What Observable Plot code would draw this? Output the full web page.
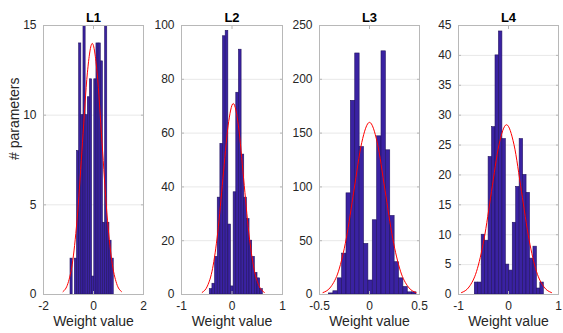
<!DOCTYPE html>
<html><head><meta charset="utf-8">
<script src="https://cdn.jsdelivr.net/npm/d3@7"></script>
<script src="https://cdn.jsdelivr.net/npm/@observablehq/plot@0.6"></script>
<style>
body{margin:0;background:#fff;}
#chart{position:relative;width:563px;height:333px;overflow:hidden;background:#fff;}
#chart svg{position:absolute;top:0;overflow:visible;}
</style></head><body><div id="chart"></div>
<script>
// ---- data ----
const titles = ["L1", "L2", "L3", "L4"];
const xLabel = "Weight value";
const yLabel = "# parameters";

// histogram: value range covered by the bars and counts per bin (20 bins each)
const l1Range = [-0.92, 0.81];
const l1Counts = [2, 0, 2, 8, 14, 10, 16, 10, 11, 12, 1, 12, 14, 14, 13, 4, 16, 4, 3, 2];
const l2Range = [-0.44, 0.61];
const l2Counts = [2, 4, 14, 36, 56, 96, 98, 26, 3, 38, 75, 91, 52, 36, 28, 20, 14, 8, 6, 2];
const l3Range = [-0.405, 0.47];
const l3Counts = [1, 3, 15, 38, 94, 180, 224, 137, 47, 13, 69, 147, 226, 134, 73, 30, 15, 7, 2, 2];
const l4Range = [-0.674, 0.706];
const l4Counts = [2, 2, 10, 9, 23, 28, 40, 44, 26, 5, 4, 12, 18, 26, 20, 17, 6, 8, 1, 2];

// red fitted curve
const l1CurveX = [-1.22, -1.025, -0.83, -0.635, -0.44, -0.245, -0.05, 0.145, 0.34, 0.535, 0.73, 0.925, 1.12];
const l1CurveY = [0.16, 0.61, 1.89, 4.55, 8.49, 12.36, 14.0, 12.36, 8.49, 4.55, 1.89, 0.61, 0.16];
const l2CurveX = [-0.59, -0.4875, -0.385, -0.2825, -0.18, -0.0775, 0.025, 0.1275, 0.23, 0.3325, 0.435, 0.5375, 0.64];
const l2CurveY = [0.79, 3.12, 9.61, 23.05, 43.06, 62.66, 71.0, 62.66, 43.06, 23.05, 9.61, 3.12, 0.79];
const l3CurveX = [-0.465, -0.3875, -0.31, -0.2325, -0.155, -0.0775, 0, 0.0775, 0.155, 0.2325, 0.31, 0.3875, 0.465];
const l3CurveY = [1.78, 7.02, 21.65, 51.95, 97.04, 141.2, 160.0, 141.2, 97.04, 51.95, 21.65, 7.02, 1.78];
const l4CurveX = [-0.94, -0.79, -0.64, -0.49, -0.34, -0.19, -0.04, 0.11, 0.26, 0.41, 0.56, 0.71, 0.86];
const l4CurveY = [0.32, 1.25, 3.84, 9.22, 17.22, 25.06, 28.4, 25.06, 17.22, 9.22, 3.84, 1.25, 0.32];

// axis ticks
const l1XTicks = [-2, 0, 2];
const l2XTicks = [-1, 0, 1];
const l3XTicks = [-0.5, 0, 0.5];
const l4XTicks = [-1, 0, 1];
const l1YTicks = [0, 5, 10, 15];
const l2YTicks = [0, 20, 40, 60, 80, 100];
const l3YTicks = [0, 50, 100, 150, 200, 250];
const l4YTicks = [0, 5, 10, 15, 20, 25, 30, 35, 40, 45];

// ---- layout / style ----
const FONT = "'Liberation Sans', Arial, Helvetica, sans-serif";
const BAR_FILL = "#3a22a2";
const BAR_STROKE = "#22135f";
const BOX = "#b8b8b8";
const TXT = "#262626";

const panels = [
  {title: titles[0], range: l1Range, counts: l1Counts, cx: l1CurveX, cy: l1CurveY, xt: l1XTicks, yt: l1YTicks,
   left: 0, width: 150, ml: 43, mr: 7, ylab: true},
  {title: titles[1], range: l2Range, counts: l2Counts, cx: l2CurveX, cy: l2CurveY, xt: l2XTicks, yt: l2YTicks,
   left: 150, width: 138, ml: 31, mr: 6},
  {title: titles[2], range: l3Range, counts: l3Counts, cx: l3CurveX, cy: l3CurveY, xt: l3XTicks, yt: l3YTicks,
   left: 288, width: 138, ml: 31, mr: 7},
  {title: titles[3], range: l4Range, counts: l4Counts, cx: l4CurveX, cy: l4CurveY, xt: l4XTicks, yt: l4YTicks,
   left: 426, width: 137, ml: 32, mr: 5}
];

const chart = document.getElementById("chart");

for (const p of panels) {
  const n = p.counts.length;
  const bw = (p.range[1] - p.range[0]) / n;
  const bins = p.counts.map((c, i) => ({x1: p.range[0] + i * bw, x2: p.range[0] + (i + 1) * bw, count: c}));
  const curve = p.cx.map((x, i) => ({x, y: p.cy[i]}));
  const fmt = d => String(d);
  const marks = [
    Plot.gridY(p.yt, {stroke: "#e8e8e8", strokeOpacity: 1, strokeWidth: 1}),
    Plot.rect(bins, {x1: "x1", x2: "x2", y1: 0, y2: "count", fill: BAR_FILL, stroke: BAR_STROKE, strokeWidth: 0.6, clip: true}),
    Plot.line(curve, {x: "x", y: "y", stroke: "#ff0000", strokeWidth: 1, curve: "monotone-x", clip: true}),
    Plot.frame({stroke: BOX}),
    Plot.axisX(p.xt, {anchor: "bottom", tickSize: -3, tickPadding: 10, stroke: BOX, fill: TXT, fontSize: 12, tickFormat: fmt, label: null}),
    Plot.axisX(p.xt, {anchor: "top", tickSize: -3, tickPadding: 0, stroke: BOX, tickFormat: () => "", label: null}),
    Plot.axisY(p.yt, {anchor: "left", tickSize: -3, tickPadding: 10, stroke: BOX, fill: TXT, fontSize: 12, tickFormat: fmt, label: null}),
    Plot.axisY(p.yt, {anchor: "right", tickSize: -3, tickPadding: 0, stroke: BOX, tickFormat: () => "", label: null}),
    Plot.text([p.title], {frameAnchor: "top", dy: -13, fontWeight: "bold", fontSize: 13, fill: "#000"}),
    Plot.text([xLabel], {frameAnchor: "bottom", dy: 31, fontSize: 14, fill: TXT})
  ];
  if (p.ylab) marks.push(Plot.text([yLabel], {frameAnchor: "left", dx: -29, rotate: -90, fontSize: 14, fill: TXT}));
  const svg = Plot.plot({
    width: p.width, height: 333,
    marginLeft: p.ml, marginRight: p.mr, marginTop: 25, marginBottom: 39,
    x: {domain: [p.xt[0], p.xt[p.xt.length - 1]]},
    y: {domain: [p.yt[0], p.yt[p.yt.length - 1]]},
    style: {fontFamily: FONT, fontSize: "12px", color: TXT, background: "transparent", overflow: "visible"},
    marks
  });
  svg.style.left = p.left + "px";
  chart.appendChild(svg);
}
</script>
</body></html>
